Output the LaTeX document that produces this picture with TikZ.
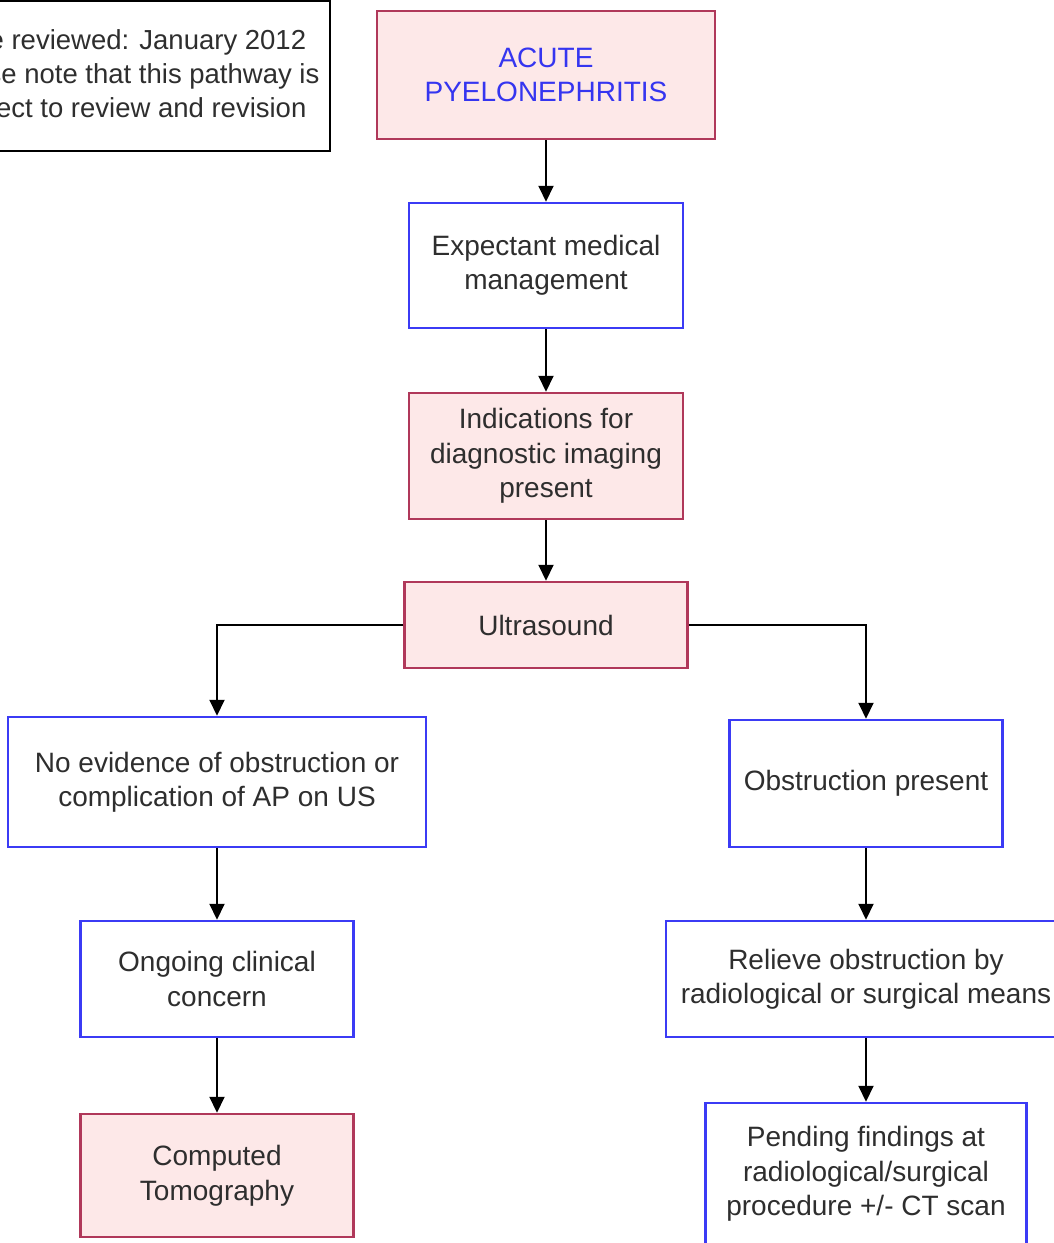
\documentclass[tikz,border=0pt]{standalone}
\usepackage{fontspec}
\setmainfont{Liberation Sans}
\usetikzlibrary{arrows.meta}
\definecolor{pinkfill}{HTML}{FDE8E8}
\definecolor{pinkline}{HTML}{B0385A}
\definecolor{blueline}{HTML}{3B3BF5}
\definecolor{txt}{HTML}{2E2E2E}
\definecolor{titleblue}{HTML}{3535F0}
\begin{document}
\begin{tikzpicture}[x=1pt,y=-1pt,
 base/.style={draw, line width=2.5pt, align=center, inner sep=0pt, text=txt, font=\fontsize{28}{34.5}\selectfont},
 pinkbox/.style={base, draw=pinkline, fill=pinkfill},
 bluebox/.style={base, draw=blueline, fill=white},
 notebox/.style={base, draw=black, line width=2pt, fill=white, font=\fontsize{27.5}{34}\selectfont},
 arr/.style={line width=2pt, draw=black, -{Triangle[width=15pt,length=16pt]}}]
\useasboundingbox (0,0) rectangle (1054,1243);
\clip (0,0) rectangle (1054,1243);

\node[notebox, minimum width=408pt, minimum height=150pt] (note) at (126,76) {Date reviewed: January 2012\\Please note that this pathway is\\subject to review and revision};

\node[pinkbox, minimum width=338pt, minimum height=128pt, text=titleblue] (acute) at (546,75) {ACUTE\\PYELONEPHRITIS};
\node[bluebox, minimum width=274pt, minimum height=125pt] (expect) at (546,265.5) {Expectant medical\\management};
\node[pinkbox, minimum width=274pt, minimum height=126pt] (indic) at (546,456) {Indications for\\diagnostic imaging\\present};
\node[pinkbox, minimum width=283pt, minimum height=86pt] (us) at (546,625) {Ultrasound};
\node[bluebox, minimum width=418pt, minimum height=130pt] (noevid) at (217,782) {No evidence of obstruction or\\complication of AP on US};
\node[bluebox, minimum width=273pt, minimum height=127pt] (obst) at (866,783.5) {Obstruction present};
\node[bluebox, minimum width=273pt, minimum height=116pt] (ongoing) at (217,979) {Ongoing clinical\\concern};
\node[bluebox, minimum width=400pt, minimum height=116pt] (relieve) at (866,979) {Relieve obstruction by\\radiological or surgical means};
\node[pinkbox, minimum width=273pt, minimum height=123pt] (ct) at (217,1175.5) {Computed\\Tomography};
\node[bluebox, minimum width=321pt, minimum height=142pt] (pending) at (866,1174) {Pending findings at\\radiological/surgical\\procedure +/- CT scan};

\draw[arr] (acute) -- (expect);
\draw[arr] (expect) -- (indic);
\draw[arr] (indic) -- (us);
\draw[arr] (us.west) -| (noevid);
\draw[arr] (us.east) -| (obst);
\draw[arr] (noevid) -- (ongoing);
\draw[arr] (ongoing) -- (ct);
\draw[arr] (obst) -- (relieve);
\draw[arr] (relieve) -- (pending);
\end{tikzpicture}
\end{document}
